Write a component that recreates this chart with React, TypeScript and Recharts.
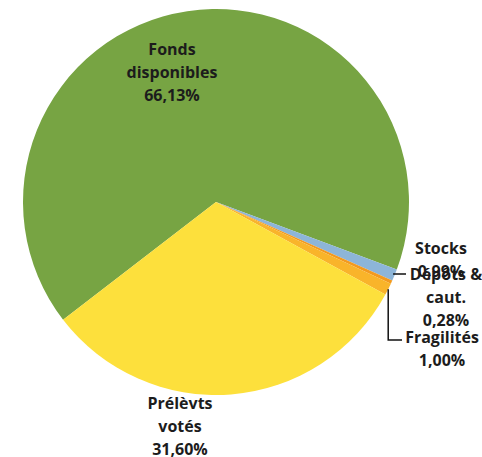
import React from "react";
import { PieChart, Pie, Cell } from "recharts";

const categories = ["Fonds\ndisponibles", "Stocks", "Dépôts &\ncaut.", "Fragilités", "Prélèvts\nvotés"];
const values = [66.13, 0.99, 0.28, 1.0, 31.6];
const colors = ["#77a443", "#8db5d8", "#f39a1e", "#f9b42a", "#fde03c"];

// label placement relative to the pie centre (presentation only)
const labelOffsets = [
  { dx: -44, dy: -153 },
  { dx: 225, dy: 46 },
  { dx: 230, dy: 72 },
  { dx: 226, dy: 135 },
  { dx: -36, dy: 201 },
];

const data = categories.map((name, i) => ({ name, value: values[i] }));

const LINE_H = 23;
const RAD = Math.PI / 180;

const fmt = (v: number) => v.toFixed(2).replace(".", ",") + "%";

const renderLabel = (props: any) => {
  const { cx, cy, midAngle, outerRadius, index, name, value } = props;
  const off = labelOffsets[index];
  const x = cx + off.dx;
  const y0 = cy + off.dy;
  const lines = [...String(name).split("\n"), fmt(value)];
  let leader: React.ReactNode = null;
  if (index === 2) {
    const ly = y0;
    const lx0 = cx + Math.sqrt(outerRadius * outerRadius - off.dy * off.dy) - 2;
    leader = <line x1={lx0} y1={ly} x2={x - 40} y2={ly} stroke="#111" strokeWidth={1.5} />;
  } else if (index === 3) {
    const ex = cx + outerRadius * Math.cos(-midAngle * RAD);
    const ey = cy + outerRadius * Math.sin(-midAngle * RAD);
    const ly = y0 + 3;
    leader = (
      <polyline
        points={`${ex},${ey} ${ex},${ly} ${x - 40},${ly}`}
        fill="none"
        stroke="#111"
        strokeWidth={1.5}
      />
    );
  }
  return (
    <g key={`lbl-${index}`}>
      {leader}
      <text
        x={x}
        y={y0}
        textAnchor="middle"
        fill="#1c1c1c"
        fontFamily="'Open Sans', sans-serif"
        fontWeight={700}
        fontSize={16}
      >
        {lines.map((t, i) => (
          <tspan key={i} x={x} y={y0 + i * LINE_H} dominantBaseline="central">
            {t}
          </tspan>
        ))}
      </text>
    </g>
  );
};

export default function App() {
  return (
    <div style={{ position: "absolute", left: 0, top: 0, width: 482, height: 457, background: "#fff" }}>
      <PieChart width={482} height={457} margin={{ top: 0, right: 0, bottom: 0, left: 0 }}>
        <Pie
          data={data}
          dataKey="value"
          nameKey="name"
          cx={216}
          cy={202}
          outerRadius={193}
          startAngle={217.6}
          endAngle={-142.4}
          stroke="none"
          isAnimationActive={false}
          label={renderLabel}
          labelLine={false}
        >
          {data.map((_, i) => (
            <Cell key={i} fill={colors[i]} />
          ))}
        </Pie>
      </PieChart>
    </div>
  );
}
